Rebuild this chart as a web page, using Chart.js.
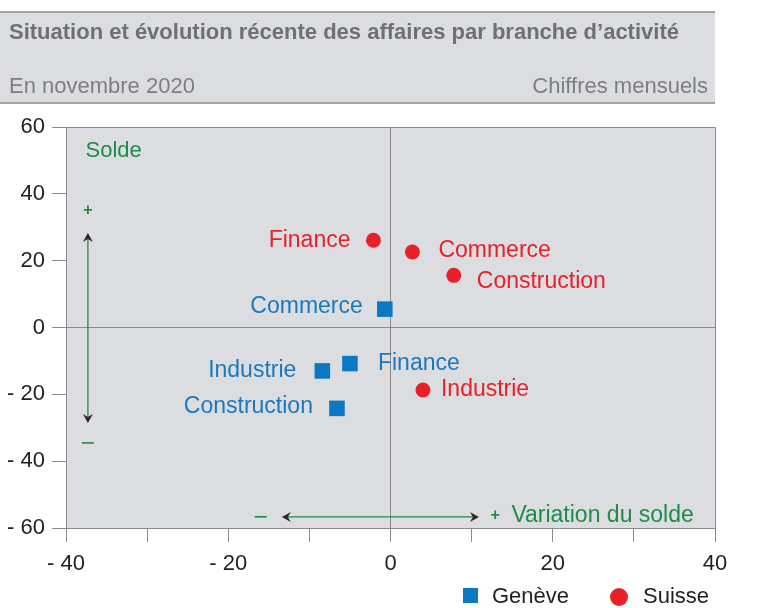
<!DOCTYPE html>
<html><head><meta charset="utf-8">
<script src="https://cdn.jsdelivr.net/npm/chart.js@4.4.0/dist/chart.umd.min.js"></script>
<style>html,body{margin:0;padding:0;background:#fff}#wrap{width:761px;height:608px}</style>
</head><body><div id="wrap"><canvas id="c" width="761" height="608"></canvas></div>
<script>
// ---- data ----
const suisseBranches = ['Finance', 'Commerce', 'Construction', 'Industrie'];
const suisseX = [-2.1, 2.7, 7.8, 4.0];
const suisseY = [26.1, 22.6, 15.6, -18.7];
const geneveBranches = ['Commerce', 'Finance', 'Industrie', 'Construction'];
const geneveX = [-0.7, -5.0, -8.4, -6.6];
const geneveY = [5.5, -10.8, -13.0, -24.2];
const xTickLabels = [-40, -20, 0, 20, 40];
const yTickLabels = [-60, -40, -20, 0, 20, 40, 60];
const seriesNames = ['Genève', 'Suisse'];

// ---- label layout (side, dx, dy) ----
const suisseLabelLayout = [['left', 23, 0], ['right', 26, -1], ['right', 23, 6], ['right', 18, 0]];
const geneveLabelLayout = [['left', 22, -2], ['right', 28, 0], ['left', 26, 0], ['left', 24, -2]];

const FONT = '"Liberation Sans", Arial, sans-serif';
const BLUE = '#0a78c2', RED = '#e8202a', GREEN = '#1e8c45', GRID = '#8a8a8a', BG = '#dcdde0';
const fmt = v => v < 0 ? '- ' + Math.abs(v) : String(v);

function arrowHead(ctx, x, y, dir) {
  ctx.save();
  ctx.translate(x, y);
  ctx.rotate(dir);
  ctx.fillStyle = '#3a2426';
  ctx.beginPath();
  ctx.moveTo(0, 0);
  ctx.lineTo(-9, -5);
  ctx.lineTo(-6, 0);
  ctx.lineTo(-9, 5);
  ctx.closePath();
  ctx.fill();
  ctx.restore();
}

const decor = {
  id: 'decor',
  beforeDraw(chart) {
    const ctx = chart.ctx, a = chart.chartArea;
    ctx.save();
    ctx.fillStyle = '#fff';
    ctx.fillRect(0, 0, chart.width, chart.height);
    ctx.fillStyle = BG;
    ctx.fillRect(0, 12, 715, 91);
    ctx.strokeStyle = GRID; ctx.lineWidth = 1.5;
    ctx.beginPath(); ctx.moveTo(0, 12); ctx.lineTo(715, 12); ctx.moveTo(0, 103); ctx.lineTo(715, 103); ctx.stroke();
    ctx.fillStyle = '#6f7072';
    ctx.textBaseline = 'middle';
    ctx.font = 'bold 22px ' + FONT;
    ctx.textAlign = 'left';
    ctx.fillText('Situation et évolution récente des affaires par branche d’activité', 9, 33, 670);
    ctx.fillStyle = '#7d7e80';
    ctx.font = '22px ' + FONT;
    ctx.fillText('En novembre 2020', 9, 87);
    ctx.textAlign = 'right';
    ctx.fillText('Chiffres mensuels', 708, 87);
    ctx.fillStyle = BG;
    ctx.fillRect(a.left, a.top, a.right - a.left, a.bottom - a.top);
    ctx.restore();
  },
  beforeDatasetsDraw(chart) {
    const ctx = chart.ctx, a = chart.chartArea;
    ctx.save();
    ctx.strokeStyle = GRID; ctx.lineWidth = 1;
    ctx.beginPath();
    ctx.moveTo(a.left, a.top + 0.5); ctx.lineTo(a.right + 0.5, a.top + 0.5); ctx.lineTo(a.right + 0.5, a.bottom);
    ctx.stroke();
    ctx.restore();
  },
  afterDraw(chart) {
    const ctx = chart.ctx, xs = chart.scales.x, ys = chart.scales.y;
    ctx.save();
    ctx.font = '23px ' + FONT;
    ctx.textBaseline = 'middle';
    const drawLabels = (names, X, Y, layout, color) => {
      ctx.fillStyle = color;
      names.forEach((n, i) => {
        const px = xs.getPixelForValue(X[i]), py = ys.getPixelForValue(Y[i]);
        const [side, dx, dy] = layout[i];
        ctx.textAlign = side === 'left' ? 'right' : 'left';
        ctx.fillText(n, side === 'left' ? px - dx : px + dx, py + dy);
      });
    };
    drawLabels(suisseBranches, suisseX, suisseY, suisseLabelLayout, RED);
    drawLabels(geneveBranches, geneveX, geneveY, geneveLabelLayout, '#1b78be');

    ctx.fillStyle = GREEN;
    ctx.textAlign = 'left';
    ctx.font = '22px ' + FONT;
    ctx.fillText('Solde', xs.getPixelForValue(-37.6), ys.getPixelForValue(52.7));
    const vx = xs.getPixelForValue(-37.3);
    const vTop = ys.getPixelForValue(28.3), vBot = ys.getPixelForValue(-28.6);
    ctx.strokeStyle = GREEN; ctx.lineWidth = 1.3;
    ctx.beginPath(); ctx.moveTo(vx, vTop + 3); ctx.lineTo(vx, vBot - 3); ctx.stroke();
    arrowHead(ctx, vx, vTop, -Math.PI / 2);
    arrowHead(ctx, vx, vBot, Math.PI / 2);
    ctx.font = 'bold 16px ' + FONT;
    ctx.textAlign = 'center';
    ctx.fillText('+', vx, ys.getPixelForValue(35));
    ctx.fillRect(vx - 6, ys.getPixelForValue(-34.6) - 1, 12, 1.6);

    const hy = ys.getPixelForValue(-56.7);
    const hL = xs.getPixelForValue(-13.4), hR = xs.getPixelForValue(10.9);
    ctx.beginPath(); ctx.moveTo(hL + 3, hy); ctx.lineTo(hR - 3, hy); ctx.stroke();
    arrowHead(ctx, hL, hy, Math.PI);
    arrowHead(ctx, hR, hy, 0);
    ctx.fillRect(xs.getPixelForValue(-16) - 6, hy - 1, 12, 1.6);
    ctx.fillText('+', xs.getPixelForValue(12.9), hy - 1);
    ctx.font = '23px ' + FONT;
    ctx.textAlign = 'left';
    ctx.fillText('Variation du solde', xs.getPixelForValue(14.9), hy - 1);

    ctx.fillStyle = BLUE;
    ctx.fillRect(463, 588, 15, 15);
    ctx.fillStyle = RED;
    ctx.beginPath(); ctx.arc(619, 597, 9, 0, Math.PI * 2); ctx.fill();
    ctx.fillStyle = '#231f20';
    ctx.font = '22px ' + FONT;
    ctx.fillText(seriesNames[0], 492, 597);
    ctx.fillText(seriesNames[1], 643, 597);
    ctx.restore();
  }
};

new Chart(document.getElementById('c'), {
  type: 'scatter',
  data: {
    datasets: [
      { label: seriesNames[0], data: geneveX.map((x, i) => ({ x, y: geneveY[i] })), pointStyle: 'rect', pointRadius: 11, backgroundColor: BLUE, borderWidth: 0 },
      { label: seriesNames[1], data: suisseX.map((x, i) => ({ x, y: suisseY[i] })), pointStyle: 'circle', pointRadius: 7.5, backgroundColor: RED, borderWidth: 0 }
    ]
  },
  options: {
    responsive: false, animation: false, devicePixelRatio: 1,
    layout: { padding: { top: 127, right: 46, left: 0, bottom: 0 } },
    plugins: { legend: { display: false }, tooltip: { enabled: false } },
    scales: {
      x: {
        type: 'linear', min: -40, max: 40,
        afterFit: s => { s.height = 80; },
        ticks: { stepSize: 10, autoSkip: false, maxRotation: 0, padding: 9,
          callback: v => xTickLabels.includes(v) ? fmt(v) : '',
          font: { family: FONT, size: 22 }, color: '#231f20' },
        grid: { drawOnChartArea: true, color: c => (c.tick && c.tick.value === 0) ? GRID : 'rgba(0,0,0,0)', tickColor: GRID, tickLength: 14, lineWidth: 1 },
        border: { display: true, color: GRID, width: 1 }
      },
      y: {
        type: 'linear', min: -60, max: 60,
        afterFit: s => { s.width = 66; },
        ticks: { stepSize: 20, autoSkip: false, padding: 7,
          callback: v => yTickLabels.includes(v) ? fmt(v) : '',
          font: { family: FONT, size: 22 }, color: '#231f20' },
        grid: { drawOnChartArea: true, color: c => (c.tick && c.tick.value === 0) ? GRID : 'rgba(0,0,0,0)', tickColor: GRID, tickLength: 14, lineWidth: 1 },
        border: { display: true, color: GRID, width: 1 }
      }
    }
  },
  plugins: [decor]
});
</script></body></html>
